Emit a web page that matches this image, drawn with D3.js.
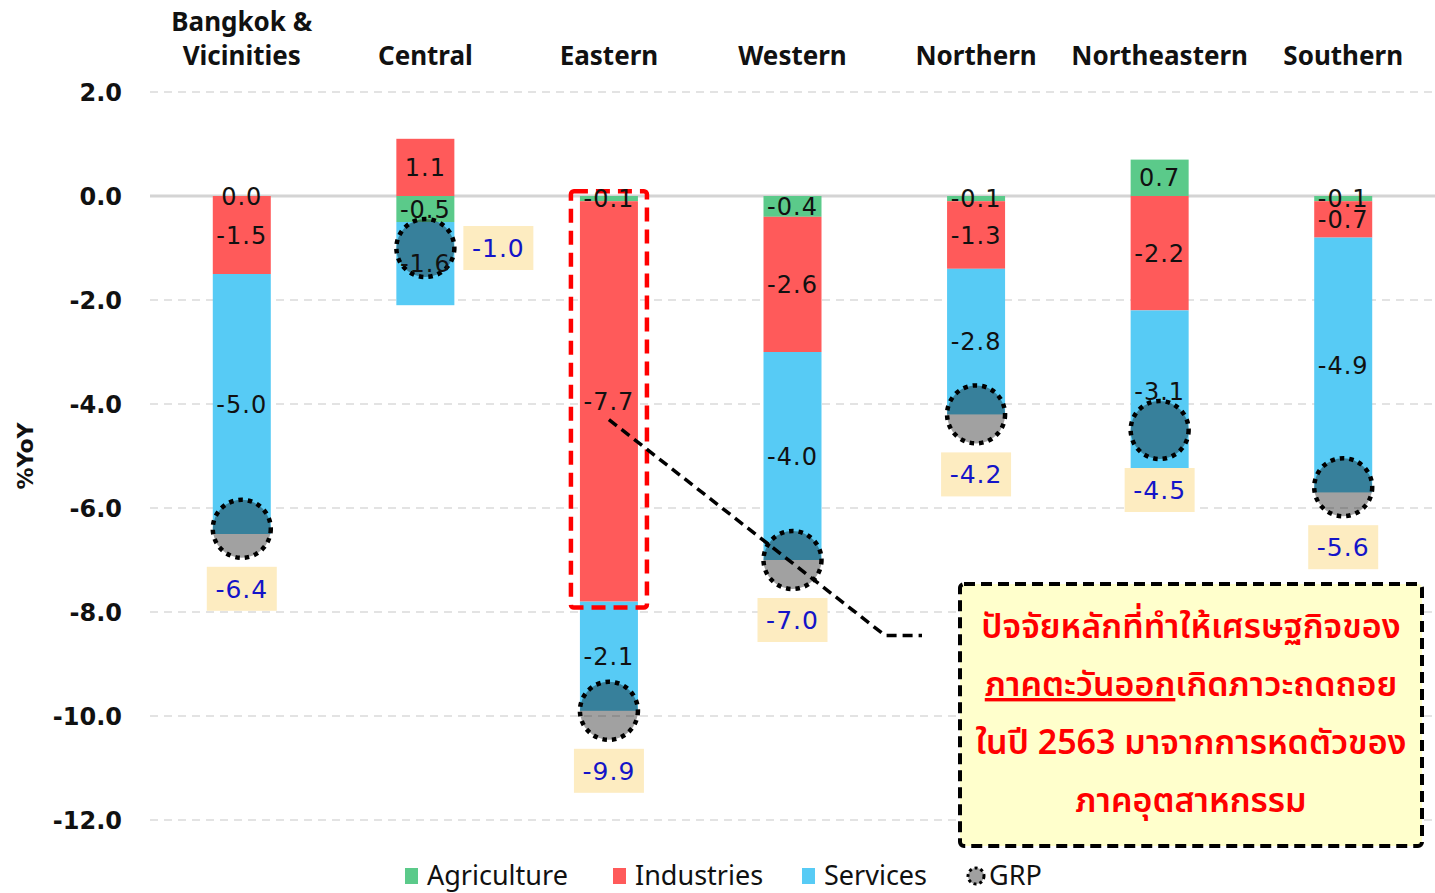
<!DOCTYPE html>
<html>
<head>
<meta charset="utf-8">
<script src="https://cdn.jsdelivr.net/npm/d3@7"></script>
<style>
  body { margin: 0; background: #fff; }
  svg { display: block; }
</style>
</head>
<body>
<div id="vis1"></div>
<script>
// categories and series
var regions = ["Bangkok & Vicinities", "Central", "Eastern", "Western", "Northern", "Northeastern", "Southern"];
var regionLines = [["Bangkok &", "Vicinities"], ["Central"], ["Eastern"], ["Western"], ["Northern"], ["Northeastern"], ["Southern"]];
var series = ["Agriculture", "Industries", "Services"];
var agriculture = [0.0, -0.5, -0.1, -0.4, -0.1, 0.7, -0.1];
var industries = [-1.5, 1.1, -7.7, -2.6, -1.3, -2.2, -0.7];
var services = [-5.0, -1.6, -2.1, -4.0, -2.8, -3.1, -4.9];
var grp = [-6.4, -1.0, -9.9, -7.0, -4.2, -4.5, -5.6];
// where the GRP label sits relative to its marker
var grpLabelSide = ["below", "right", "below", "below", "below", "below", "below"];
var yTicks = [2, 0, -2, -4, -6, -8, -10, -12];
var colors = {"Agriculture": "#5bca8a", "Industries": "#ff5a5a", "Services": "#57cbf5"};
var calloutLines = [
    [["ปัจจัยหลักที่ทำให้เศรษฐกิจของ", false]],
    [["ภาคตะวันออก", true], ["เกิดภาวะถดถอย", false]],
    [["ในปี 2563 มาจากการหดตัวของ", false]],
    [["ภาคอุตสาหกรรม", false]]
];

var W = 1435, H = 893;
var svg = d3.select("#vis1").append("svg").attr("width", W).attr("height", H);

// scales
var x = d3.scaleBand().domain(regions).range([150, 1435]).paddingInner(0.684).paddingOuter(0.342);
var y = d3.scaleLinear().domain([-12, 2]).range([820, 92]);
var fmt = (v) => v.toFixed(1);

// table for the stack
var table = regions.map((r, i) => ({region: r, Agriculture: agriculture[i], Industries: industries[i], Services: services[i]}));
var stacked = d3.stack().keys(series).offset(d3.stackOffsetDiverging)(table);

// gridlines
svg.append("g").selectAll("line").data(yTicks).enter().append("line")
    .attr("x1", 150).attr("x2", W)
    .attr("y1", (d) => y(d)).attr("y2", (d) => y(d))
    .attr("stroke", (d) => d == 0 ? "#d4d4d4" : "#dadada")
    .attr("stroke-width", (d) => d == 0 ? 3 : 1.4)
    .attr("stroke-dasharray", (d) => d == 0 ? null : "8 6");

// y tick labels
svg.append("g").selectAll("text").data(yTicks).enter().append("text")
    .text(fmt)
    .attr("x", 122).attr("y", (d) => y(d)).attr("dy", "0.36em")
    .attr("text-anchor", "end")
    .attr("style", "font-family:'DejaVu Sans';font-weight:bold;font-size:24px;fill:#111;");

// y axis title
svg.append("text").text("%YoY")
    .attr("transform", "translate(33," + y(-5) + ") rotate(-90)")
    .attr("text-anchor", "middle")
    .attr("style", "font-family:'DejaVu Sans';font-weight:bold;font-size:22px;fill:#111;");

// category labels on top
regionLines.forEach(function(lines, i){
    lines.forEach(function(t, j){
        svg.append("text").text(t)
            .attr("x", x(regions[i]) + x.bandwidth()/2)
            .attr("y", 65 - (lines.length - 1 - j)*34)
            .attr("text-anchor", "middle")
            .attr("style", "font-family:'Noto Sans';font-weight:bold;font-size:26px;fill:#111;");});});

// stacked bars
var layers = svg.append("g").selectAll("g").data(stacked).enter().append("g")
    .attr("fill", (d) => colors[d.key]);
layers.selectAll("rect").data((d) => d).enter().append("rect")
    .attr("x", (d) => x(d.data.region))
    .attr("width", x.bandwidth())
    .attr("y", (d) => y(d[1]))
    .attr("height", (d) => y(d[0]) - y(d[1]));

// red dashed frame round the Eastern industries segment
var east = stacked[1][2];
svg.append("rect")
    .attr("x", x("Eastern") - 9).attr("width", x.bandwidth() + 18)
    .attr("y", y(east[1]) - 10).attr("height", y(east[0]) - y(east[1]) + 16)
    .attr("rx", 3)
    .attr("fill", "none").attr("stroke", "#ff0000").attr("stroke-width", 4.5)
    .attr("stroke-dasharray", "14 8");

// GRP markers
svg.append("g").selectAll("circle").data(grp).enter().append("circle")
    .attr("cx", (d, i) => x(regions[i]) + x.bandwidth()/2)
    .attr("cy", (d) => y(d))
    .attr("r", 29)
    .attr("fill", "rgba(0,0,0,0.37)")
    .attr("stroke", "#000").attr("stroke-width", 4.5)
    .attr("stroke-dasharray", "4.5 5");

// segment value labels, drawn after all bars so none get covered
var segLabels = [];
stacked.forEach(function(layer){
    layer.forEach(function(s){segLabels.push({s: s, v: s.data[layer.key]});});});
svg.append("g").selectAll("text").data(segLabels).enter().append("text")
    .text((d) => fmt(d.v))
    .attr("x", (d) => x(d.s.data.region) + x.bandwidth()/2)
    .attr("y", (d) => y((d.s[0] + d.s[1])/2)).attr("dy", "0.36em")
    .attr("text-anchor", "middle")
    .attr("style", "font-family:'DejaVu Sans';font-size:24px;fill:#111;letter-spacing:1px;");

// GRP value labels
var grpLab = svg.append("g").selectAll("g").data(grp).enter().append("g")
    .attr("transform", function(d, i){
        let cx = x(regions[i]) + x.bandwidth()/2;
        if(grpLabelSide[i] == "right"){return "translate(" + (cx + 73) + "," + y(d) + ")";}
        return "translate(" + cx + "," + (y(d) + 60) + ")";});
grpLab.append("rect").attr("x", -35).attr("y", -22).attr("width", 70).attr("height", 44).attr("fill", "#fdecc1");
grpLab.append("text").text(fmt)
    .attr("dy", "0.36em").attr("text-anchor", "middle")
    .attr("style", "font-family:'DejaVu Sans';font-size:25px;fill:#1414c8;letter-spacing:1px;");

// callout box
var box = {x: 960, y: 584, w: 462, h: 262};
svg.append("rect")
    .attr("x", box.x).attr("y", box.y).attr("width", box.w).attr("height", box.h).attr("rx", 4)
    .attr("fill", "#ffffcc").attr("stroke", "#000").attr("stroke-width", 4)
    .attr("stroke-dasharray", "11 6");
calloutLines.forEach(function(parts, i){
    let t = svg.append("text")
        .attr("x", box.x + box.w/2).attr("y", box.y + 54 + i*58)
        .attr("text-anchor", "middle")
        .attr("style", "font-family:'Noto Sans Thai','Noto Sans','DejaVu Sans',sans-serif;font-size:34px;font-weight:600;fill:#ff0000;");
    parts.forEach(function(p){
        t.append("tspan").text(p[0]).attr("text-decoration", p[1] ? "underline" : null);});});

// dashed connector from the Eastern bar to the box
var cStart = [x("Eastern") + x.bandwidth()/2, y(-4.3)];
var cCorner = [box.x - 75, y(-8.45)];
var cEnd = [box.x - 38, y(-8.45)];
svg.append("path")
    .attr("d", d3.line()([cStart, cCorner, cEnd]))
    .attr("fill", "none").attr("stroke", "#000").attr("stroke-width", 3.5)
    .attr("stroke-dasharray", "10 6");

// legend
var legendX = [405, 613, 802];
var legend = svg.append("g");
series.forEach(function(s, i){
    legend.append("rect").attr("x", legendX[i]).attr("y", 868).attr("width", 13).attr("height", 16).attr("fill", colors[s]);
    legend.append("text").text(s).attr("x", legendX[i] + 22).attr("y", 885)
        .attr("style", "font-family:'Noto Sans';font-size:27px;fill:#111;");});
legend.append("circle").attr("cx", 976).attr("cy", 876).attr("r", 8)
    .attr("fill", "#a0a0a0").attr("stroke", "#000").attr("stroke-width", 3).attr("stroke-dasharray", "3 3");
legend.append("text").text("GRP").attr("x", 989).attr("y", 885)
    .attr("style", "font-family:'Noto Sans';font-size:27px;fill:#111;");
</script>
</body>
</html>
